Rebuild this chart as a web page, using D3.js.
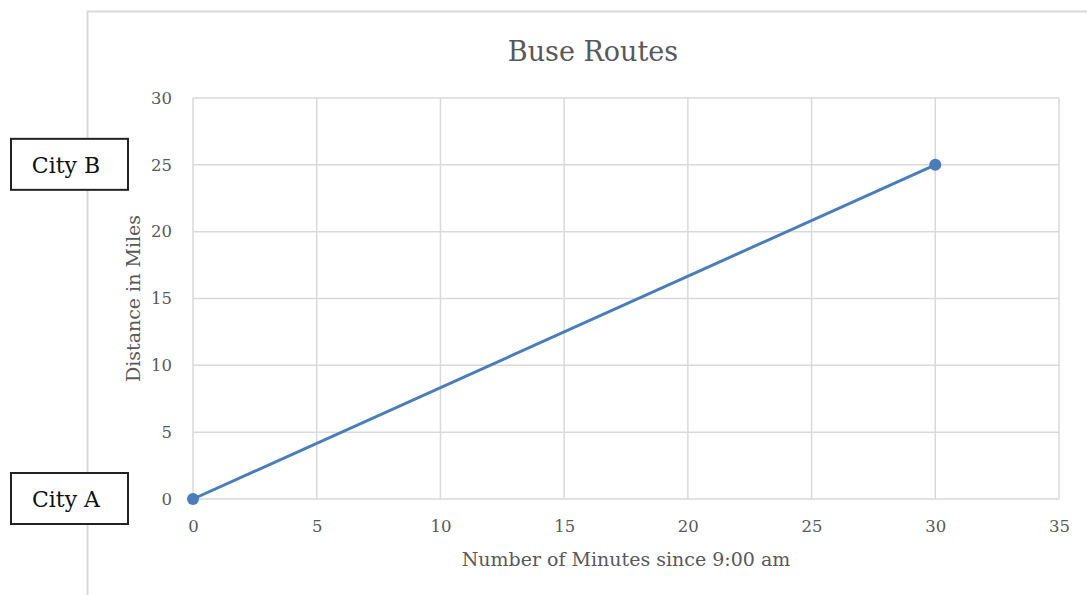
<!DOCTYPE html>
<html>
<head>
<meta charset="utf-8">
<script src="https://cdn.jsdelivr.net/npm/d3@7"></script>
<style>
  body { margin: 0; background: #fff; }
  text { font-family: "DejaVu Serif", "Liberation Serif", serif; }
</style>
</head>
<body>
<svg id="chart"></svg>
<script>
const minutes = [0, 30];
const miles = [0, 25];
const xTicks = [0, 5, 10, 15, 20, 25, 30, 35];
const yTicks = [0, 5, 10, 15, 20, 25, 30];
const cityLabels = [{name: "City A", value: 0}, {name: "City B", value: 25}];

const width = 1087, height = 595;
const margin = {top: 98, right: 28, bottom: 96, left: 193};

const svg = d3.select("#chart").attr("width", width).attr("height", height);

// outer chart frame (only top and left edges visible)
svg.append("path")
    .attr("d", `M87.5,${height} V11.5 H${width}`)
    .attr("fill", "none")
    .attr("stroke", "#d9d9d9")
    .attr("stroke-width", 2);

const x = d3.scaleLinear().domain([0, 35]).range([margin.left, width - margin.right]);
const y = d3.scaleLinear().domain([0, 30]).range([height - margin.bottom, margin.top]);

// gridlines
svg.append("g").selectAll("line")
    .data(xTicks)
    .join("line")
    .attr("x1", d => x(d)).attr("x2", d => x(d))
    .attr("y1", y(0)).attr("y2", y(30))
    .attr("stroke", "#d9d9d9").attr("stroke-width", 1.5);

svg.append("g").selectAll("line")
    .data(yTicks)
    .join("line")
    .attr("x1", x(0)).attr("x2", x(35))
    .attr("y1", d => y(d)).attr("y2", d => y(d))
    .attr("stroke", "#d9d9d9").attr("stroke-width", 1.5);

// axes labels
const xAxis = d3.axisBottom(x).tickValues(xTicks).tickSize(0).tickPadding(21);
svg.append("g")
    .attr("transform", `translate(0,${y(0)})`)
    .call(xAxis)
    .call(g => g.select(".domain").remove())
    .call(g => g.selectAll("text")
        .attr("fill", "#595959")
        .style("font-family", "DejaVu Serif, serif")
        .style("font-size", "16.5px"));

const yAxis = d3.axisLeft(y).tickValues(yTicks).tickSize(0).tickPadding(21);
svg.append("g")
    .attr("transform", `translate(${x(0)},0)`)
    .call(yAxis)
    .call(g => g.select(".domain").remove())
    .call(g => g.selectAll("text")
        .attr("fill", "#595959")
        .style("font-family", "DejaVu Serif, serif")
        .style("font-size", "16.5px"));

// title
svg.append("text")
    .attr("x", 593).attr("y", 61)
    .attr("text-anchor", "middle")
    .attr("fill", "#595959")
    .style("font-size", "27px")
    .text("Buse Routes");

svg.append("text")
    .attr("x", 626).attr("y", 566)
    .attr("text-anchor", "middle")
    .attr("fill", "#595959")
    .style("font-size", "19px")
    .text("Number of Minutes since 9:00 am");

svg.append("text")
    .attr("transform", `translate(140,${y(15)}) rotate(-90)`)
    .attr("text-anchor", "middle")
    .attr("fill", "#595959")
    .style("font-size", "19px")
    .text("Distance in Miles");

// data line
const data = minutes.map((m, i) => ({x: m, y: miles[i]}));
const line = d3.line().x(d => x(d.x)).y(d => y(d.y));

svg.append("path")
    .datum(data)
    .attr("d", line)
    .attr("fill", "none")
    .attr("stroke", "#4a7ebb")
    .attr("stroke-width", 3);

svg.append("g").selectAll("circle")
    .data(data)
    .join("circle")
    .attr("cx", d => x(d.x))
    .attr("cy", d => y(d.y))
    .attr("r", 6)
    .attr("fill", "#4a7ebb");

// city boxes
const boxes = svg.append("g").selectAll("g")
    .data(cityLabels)
    .join("g")
    .attr("transform", d => `translate(11,${y(d.value) - 26})`);

boxes.append("rect")
    .attr("width", 117).attr("height", 51)
    .attr("fill", "#fff")
    .attr("stroke", "#222")
    .attr("stroke-width", 2);

boxes.append("text")
    .attr("x", 55).attr("y", 34)
    .attr("text-anchor", "middle")
    .attr("fill", "#111")
    .style("font-size", "22px")
    .text(d => d.name);
</script>
</body>
</html>
